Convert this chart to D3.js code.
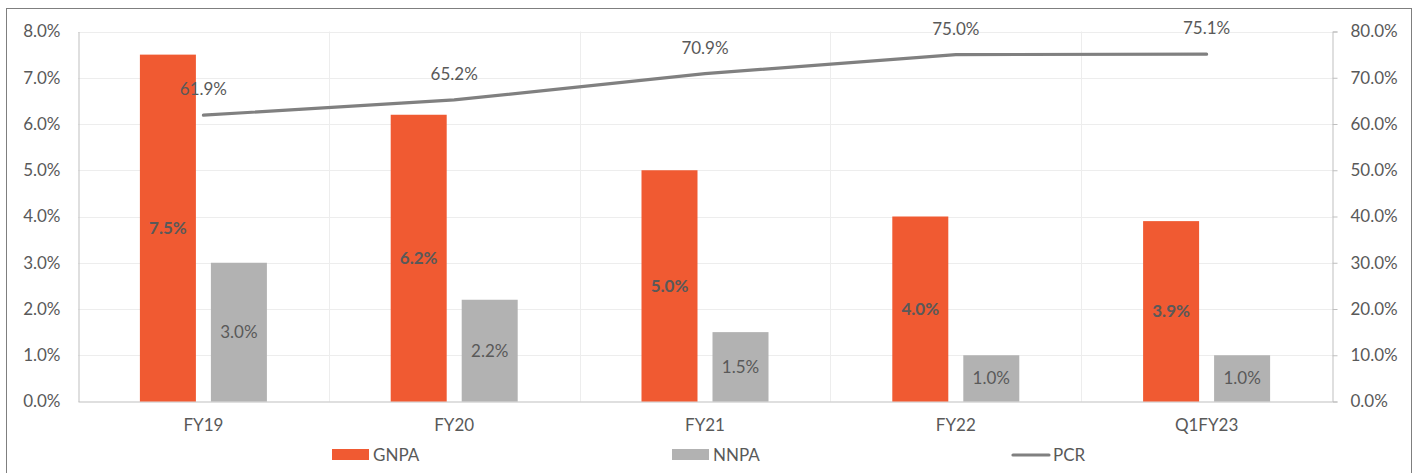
<!DOCTYPE html>
<html>
<head>
<meta charset="utf-8">
<script src="https://cdn.jsdelivr.net/npm/d3@7"></script>
<style>
  html, body { margin: 0; padding: 0; background: #fff; }
  svg { display: block; font-family: Lato, "Noto Sans", sans-serif; }
</style>
</head>
<body>
<svg id="chart" width="1417" height="473"></svg>
<script>
// Asset quality: gross / net NPA ratios (left axis) and provision coverage (right axis)
const categories = ["FY19", "FY20", "FY21", "FY22", "Q1FY23"];
const gnpa = [7.5, 6.2, 5.0, 4.0, 3.9];
const nnpa = [3.0, 2.2, 1.5, 1.0, 1.0];
const pcr = [61.9, 65.2, 70.9, 75.0, 75.1];
const leftTicks = [0, 1, 2, 3, 4, 5, 6, 7, 8];
const rightTicks = [0, 10, 20, 30, 40, 50, 60, 70, 80];
const seriesNames = ["GNPA", "NNPA", "PCR"];

const COLORS = { gnpa: "#F05A32", nnpa: "#B2B2B2", pcr: "#808080", text: "#595959", grid: "#EDEDED", axis: "#BFBFBF" };

const svg = d3.select("#chart");
const W = 1417, H = 473;
const plot = { left: 78, right: 1332, top: 31.5, bottom: 401.5 };

// Outer frame
svg.append("rect")
  .attr("x", 6.5).attr("y", 8.5).attr("width", 1405).attr("height", H)
  .attr("fill", "none").attr("stroke", "#7F7F7F").attr("stroke-width", 1);

const x = d3.scaleBand().domain(categories).range([plot.left, plot.right]).padding(0);
const yL = d3.scaleLinear().domain([0, 8]).range([plot.bottom, plot.top]);
const yR = d3.scaleLinear().domain([0, 80]).range([plot.bottom, plot.top]);

// Horizontal gridlines
svg.append("g").selectAll("line").data(leftTicks.slice(1)).join("line")
  .attr("x1", plot.left).attr("x2", plot.right)
  .attr("y1", d => Math.round(yL(d)) + 0.5).attr("y2", d => Math.round(yL(d)) + 0.5)
  .attr("stroke", COLORS.grid).attr("stroke-width", 1);

// Vertical gridlines between categories
svg.append("g").selectAll("line").data(categories.slice(1)).join("line")
  .attr("x1", d => Math.round(x(d)) + 0.5).attr("x2", d => Math.round(x(d)) + 0.5)
  .attr("y1", plot.top).attr("y2", plot.bottom)
  .attr("stroke", COLORS.grid).attr("stroke-width", 1);

// Left axis
const leftAxis = svg.append("g").attr("transform", `translate(${plot.left + 0.5},0)`)
  .call(d3.axisLeft(yL).tickValues(leftTicks).tickSize(0).tickPadding(18).tickFormat(d => d3.format(".1f")(d) + "%"));
leftAxis.select(".domain").attr("stroke", COLORS.axis);
leftAxis.selectAll("text").attr("fill", COLORS.text).style("font-size", "17px").style("font-family", "Lato, sans-serif");

// Right axis
const rightAxis = svg.append("g").attr("transform", `translate(${plot.right + 0.5},0)`)
  .call(d3.axisRight(yR).tickValues(rightTicks).tickSize(5).tickPadding(13).tickFormat(d => d3.format(".1f")(d) + "%"));
rightAxis.select(".domain").attr("stroke", COLORS.axis);
rightAxis.selectAll(".tick line").attr("stroke", COLORS.axis);
rightAxis.selectAll("text").attr("fill", COLORS.text).style("font-size", "17px").style("font-family", "Lato, sans-serif");

// Bottom axis
const bottomAxis = svg.append("g").attr("transform", `translate(0,${plot.bottom})`)
  .call(d3.axisBottom(x).tickSize(0).tickPadding(17));
bottomAxis.select(".domain").attr("stroke", COLORS.axis);
bottomAxis.selectAll("text").attr("fill", COLORS.text).style("font-size", "17px").style("font-family", "Lato, sans-serif");

// Bars: two per category
const barW = 56, gap = 15;
const inner = d3.scaleOrdinal().domain(["gnpa", "nnpa"]).range([-(barW + gap) / 2, (barW + gap) / 2]);
const bars = svg.append("g");
const barSeries = [
  { key: "gnpa", values: gnpa, color: COLORS.gnpa, bold: true },
  { key: "nnpa", values: nnpa, color: COLORS.nnpa, bold: false }
];
barSeries.forEach(s => {
  const cx = (d, i) => x(categories[i]) + x.bandwidth() / 2 + inner(s.key);
  bars.selectAll(`rect.${s.key}`).data(s.values).join("rect")
    .attr("class", s.key)
    .attr("x", (d, i) => cx(d, i) - barW / 2)
    .attr("y", d => yL(d))
    .attr("width", barW)
    .attr("height", d => plot.bottom - yL(d))
    .attr("fill", s.color);
  bars.selectAll(`text.${s.key}`).data(s.values).join("text")
    .attr("class", s.key)
    .attr("x", (d, i) => cx(d, i))
    .attr("y", d => (yL(d) + plot.bottom) / 2)
    .attr("dy", "0.35em")
    .attr("text-anchor", "middle")
    .attr("fill", COLORS.text)
    .style("font-size", "17px")
    .style("font-weight", s.bold ? "bold" : "normal")
    .text(d => d3.format(".1f")(d) + "%");
});

// PCR line
const line = d3.line()
  .x((d, i) => x(categories[i]) + x.bandwidth() / 2)
  .y(d => yR(d));
svg.append("path").datum(pcr)
  .attr("d", line).attr("fill", "none")
  .attr("stroke", COLORS.pcr).attr("stroke-width", 3.2).attr("stroke-linecap", "round");

svg.append("g").selectAll("text").data(pcr).join("text")
  .attr("x", (d, i) => x(categories[i]) + x.bandwidth() / 2)
  .attr("y", d => yR(d) - 20)
  .attr("text-anchor", "middle")
  .attr("fill", COLORS.text)
  .style("font-size", "17px")
  .text(d => d3.format(".1f")(d) + "%");

// Legend
const legendItems = [
  { name: seriesNames[0], type: "rect", color: COLORS.gnpa, x: 332 },
  { name: seriesNames[1], type: "rect", color: COLORS.nnpa, x: 672 },
  { name: seriesNames[2], type: "line", color: COLORS.pcr, x: 1012 }
];
const legend = svg.append("g");
legendItems.forEach(it => {
  if (it.type === "rect") {
    legend.append("rect").attr("x", it.x).attr("y", 449).attr("width", 37).attr("height", 11).attr("fill", it.color);
  } else {
    legend.append("line").attr("x1", it.x + 1).attr("x2", it.x + 37).attr("y1", 455).attr("y2", 455)
      .attr("stroke", it.color).attr("stroke-width", 3.2).attr("stroke-linecap", "round");
  }
  legend.append("text").attr("x", it.x + 41).attr("y", 455).attr("dy", "0.35em")
    .attr("fill", COLORS.text).style("font-size", "17px").text(it.name);
});
</script>
</body>
</html>
